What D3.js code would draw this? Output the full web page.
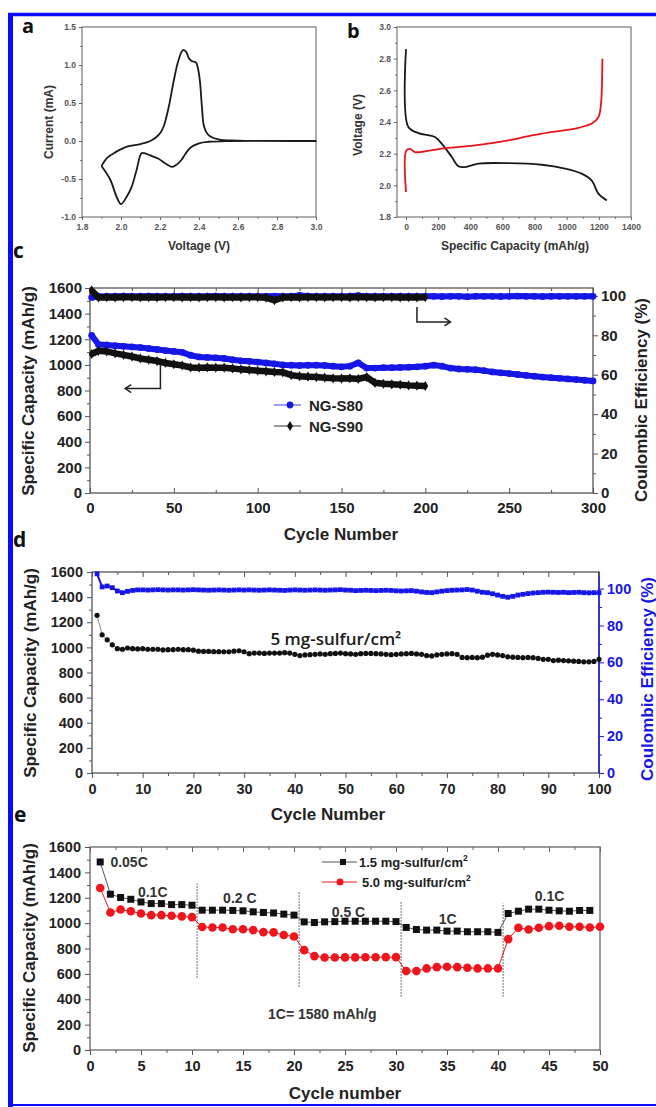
<!DOCTYPE html>
<html>
<head>
<meta charset="utf-8">
<script src="https://cdn.jsdelivr.net/npm/d3@7"></script>
<style>
body { margin: 0; background: #fff; }
svg { display: block; }
</style>
</head>
<body>
<svg id="fig"></svg>
<script>
// ---- data ----
// (a) cyclic voltammogram, one closed loop: anodic scan then cathodic scan
const cvVoltage = [1.90, 1.93, 1.97, 2.03, 2.10, 2.15, 2.18, 2.205, 2.22, 2.245, 2.268, 2.29, 2.31, 2.32, 2.335, 2.35, 2.365, 2.385, 2.395, 2.405, 2.415, 2.426, 2.448, 2.50, 2.60, 3.00,
                   2.55, 2.45, 2.40, 2.36, 2.33, 2.31, 2.28, 2.26, 2.23, 2.19, 2.15, 2.12, 2.105, 2.08, 2.055, 2.03, 2.00, 1.98, 1.945, 1.90];
const cvCurrent = [-0.33, -0.22, -0.15, -0.075, -0.04, 0.0, 0.05, 0.12, 0.20, 0.45, 0.76, 1.02, 1.17, 1.20, 1.17, 1.08, 1.05, 1.03, 0.95, 0.78, 0.45, 0.19, 0.08, 0.02, 0.005, 0.0,
                   0.0, -0.01, -0.03, -0.08, -0.17, -0.25, -0.32, -0.34, -0.30, -0.23, -0.19, -0.16, -0.16, -0.38, -0.60, -0.73, -0.83, -0.75, -0.51, -0.33];

// (b) discharge / charge profiles
const disCap  = [0, 14, 77, 180, 222, 284, 326, 367, 450, 637, 845, 990, 1093, 1156, 1197, 1249];
const disVolt = [2.86, 2.37, 2.33, 2.305, 2.263, 2.18, 2.12, 2.115, 2.137, 2.14, 2.13, 2.106, 2.074, 2.03, 1.948, 1.905];
const chgCap  = [0, 2, 25, 56, 222, 429, 637, 782, 907, 1052, 1156, 1197, 1213, 1222];
const chgVolt = [1.958, 2.22, 2.23, 2.21, 2.232, 2.253, 2.284, 2.316, 2.337, 2.358, 2.39, 2.43, 2.51, 2.80];

// (c) long cycling, sampled every 5 cycles
const cCycles80 = [1, 5, 10, 15, 20, 25, 30, 35, 40, 45, 50, 55, 60, 65, 70, 75, 80, 85, 90, 95, 100, 105, 110, 115, 120, 125, 130, 135, 140, 145,
                   150, 155, 160, 165, 170, 175, 180, 185, 190, 195, 200, 205, 210, 215, 220, 225, 230, 235, 240, 245, 250, 255, 260, 265, 270, 275, 280, 285, 290, 295, 300];
const cap80 = [1230, 1160, 1155, 1150, 1145, 1140, 1135, 1128, 1120, 1112, 1105, 1098, 1075, 1062, 1058, 1055, 1050, 1040, 1032, 1028,
               1022, 1015, 1008, 1000, 998, 995, 997, 998, 995, 990, 985, 990, 1015, 975, 975, 978, 978, 980, 982, 985,
               990, 998, 990, 975, 968, 965, 962, 955, 945, 938, 932, 925, 918, 912, 905, 900, 895, 890, 885, 880, 875];
const ce80 = [99.2, 99.7, 99.8, 99.8, 99.9, 99.8, 99.8, 99.9, 99.8, 99.8, 99.8, 99.9, 99.8, 99.8, 99.8, 99.9, 99.8, 99.8, 99.8, 99.8,
              99.8, 99.8, 99.9, 99.8, 99.8, 100.2, 99.9, 99.8, 99.8, 99.8, 99.8, 99.9, 100.1, 99.8, 99.8, 99.8, 99.8, 99.8, 99.8, 99.8,
              99.8, 99.8, 99.7, 99.8, 99.8, 99.6, 99.8, 99.8, 99.8, 99.7, 99.8, 99.9, 99.8, 99.8, 99.7, 99.8, 99.8, 99.8, 99.8, 99.8, 99.8];
const cCycles90 = [1, 5, 10, 15, 20, 25, 30, 35, 40, 45, 50, 55, 60, 65, 70, 75, 80, 85, 90, 95, 100, 105, 110, 115, 120, 125, 130, 135, 140, 145,
                   150, 155, 160, 165, 170, 175, 180, 185, 190, 195, 200];
const cap90 = [1085, 1110, 1105, 1090, 1078, 1065, 1050, 1040, 1030, 1015, 1005, 995, 980, 978, 980, 978, 978, 972, 965, 960,
               955, 950, 945, 942, 920, 912, 908, 905, 900, 895, 893, 895, 890, 905, 860, 852, 848, 845, 840, 838, 835];
const ce90 = [102.8, 99.2, 99.3, 99.2, 99.3, 99.3, 99.2, 99.3, 99.2, 99.3, 99.3, 99.2, 99.3, 99.2, 99.3, 99.3, 99.2, 99.3, 99.2, 99.3,
              99.3, 99.1, 97.8, 99.2, 99.3, 99.2, 99.3, 99.3, 99.2, 99.3, 99.3, 99.2, 99.4, 99.3, 99.2, 99.3, 99.3, 99.2, 99.3, 99.2, 99.3];

// (d) 5 mg-sulfur/cm2, cycles 1..100
const dCap = [1255, 1100, 1060, 1020, 990, 985, 995, 990, 988, 990,
              985, 985, 985, 980, 982, 982, 985, 982, 982, 978,
              970, 968, 968, 966, 966, 965, 965, 970, 973, 965,
              950, 955, 955, 952, 955, 955, 955, 958, 955, 945,
              935, 940, 942, 945, 948, 945, 950, 952, 955, 950,
              948, 945, 950, 952, 952, 950, 948, 945, 942, 945,
              948, 950, 952, 948, 945, 935, 932, 940, 945, 948,
              950, 945, 920, 918, 920, 918, 922, 938, 945, 940,
              935, 925, 922, 920, 918, 920, 918, 912, 905, 905,
              895, 898, 895, 893, 890, 888, 885, 885, 888, 905];
const dCE = [108, 100.9, 101.4, 100.5, 98.7, 97.8, 98.5, 99, 99.3, 99.3,
             99.2, 99.3, 99.4, 99.3, 99.2, 99.3, 99.3, 99.2, 99.3, 99.4,
             99.3, 99.2, 99.1, 99.2, 99.3, 99.2, 99.1, 99.2, 99.3, 99.2,
             99.3, 99.2, 99.1, 99.2, 99.3, 99.2, 99.1, 99.0, 99.2, 99.3,
             99.2, 99.1, 99.2, 99.3, 99.2, 99.1, 99.2, 99.3, 99.4, 99.2,
             99.1, 98.9, 99.0, 99.1, 99.0, 98.9, 99.0, 99.1, 99.0, 98.8,
             98.7, 98.8, 98.9, 98.6, 98.2, 97.9, 97.8, 98.2, 98.6, 98.9,
             99.1, 99.2, 99.3, 99.5, 99.2, 98.6, 98.0, 97.8, 97.2, 96.5,
             95.8, 95.3, 95.8, 96.5, 96.9, 97.3, 97.6, 97.8, 98.0, 98.1,
             98.0, 97.9, 98.0, 97.8, 97.9, 98.0, 97.8, 97.7, 97.8, 97.8];

// (e) rate capability
const eCap15 = [1482, 1228, 1202, 1188, 1167, 1154, 1154, 1146, 1146, 1141,
                1102, 1102, 1102, 1100, 1097, 1089, 1084, 1080, 1071, 1063,
                1010, 1005, 1010, 1012, 1015, 1015, 1015, 1015, 1015, 1012,
                966, 950, 945, 945, 937, 937, 932, 932, 932, 927,
                1076, 1094, 1110, 1110, 1102, 1097, 1094, 1100, 1100];
const eCap50 = [1277, 1084, 1107, 1094, 1076, 1063, 1063, 1058, 1053, 1047,
                970, 965, 965, 952, 952, 945, 929, 927, 906, 895,
                787, 740, 729, 729, 730, 730, 731, 731, 732, 732,
                622, 622, 643, 653, 656, 653, 648, 643, 643, 643,
                874, 963, 950, 963, 976, 979, 971, 971, 965, 971];
const eRates = ['0.05C', '0.1C', '0.2 C', '0.5 C', '1C', '0.1C'];
const eRateAt = [[2.0, 1443], [4.7, 1205], [13.05, 1157], [23.7, 1048], [34.2, 990], [43.6, 1172]];
const eSwitch = [10.5, 20.5, 30.5, 40.5];
const eSwitchSpan = [[569, 1312], [498, 1246], [420, 1167], [420, 1155]];

// tick labels
const aXTicks = [1.8, 2.0, 2.2, 2.4, 2.6, 2.8, 3.0];
const aYTicks = [-1.0, -0.5, 0.0, 0.5, 1.0, 1.5];
const bXTicks = [0, 200, 400, 600, 800, 1000, 1200, 1400];
const bYTicks = [1.8, 2.0, 2.2, 2.4, 2.6, 2.8, 3.0];
const capTicks = [0, 200, 400, 600, 800, 1000, 1200, 1400, 1600];
const ceTicks = [0, 20, 40, 60, 80, 100];
const cXTicks = [0, 50, 100, 150, 200, 250, 300];
const dXTicks = [0, 10, 20, 30, 40, 50, 60, 70, 80, 90, 100];
const eXTicks = [0, 5, 10, 15, 20, 25, 30, 35, 40, 45, 50];

// ---- drawing ----
const W = 656, H = 1107;
const ARIAL = '"Liberation Sans", Arial, sans-serif';
const CAL = '"Open Sans", "Noto Sans", sans-serif';
const BLUE = '#1616e6', RED = '#f0141c', INK = '#111';

const svg = d3.select('#fig').attr('width', W).attr('height', H);
svg.append('rect').attr('width', W).attr('height', H).attr('fill', '#fff');

// blue figure border
svg.append('line').attr('x1', 10.5).attr('x2', 10.5).attr('y1', 13).attr('y2', H).attr('stroke', '#0a0aff').attr('stroke-width', 5);
svg.append('line').attr('x1', 8).attr('x2', W).attr('y1', 14.5).attr('y2', 14.5).attr('stroke', '#0a0aff').attr('stroke-width', 3.5);
svg.append('line').attr('x1', 8).attr('x2', W).attr('y1', 1105).attr('y2', 1105).attr('stroke', '#0a0aff').attr('stroke-width', 2);

function drawAxis(g, orient, scale, major, o) {
	let make = {bottom: d3.axisBottom, top: d3.axisTop, left: d3.axisLeft, right: d3.axisRight}[orient];
	let horiz = orient == 'bottom' || orient == 'top';
	let tr = horiz ? `translate(0,${o.at})` : `translate(${o.at},0)`;
	let minor = major.slice(1).map((v, i) => (v + major[i]) / 2);
	let gm = g.append('g').attr('transform', tr).attr('color', o.color)
		.call(make(scale).tickValues(minor).tickSize(o.size * 0.6).tickFormat(''));
	gm.select('.domain').remove();
	let ga = g.append('g').attr('transform', tr).attr('color', o.color)
		.call(make(scale).tickValues(major).tickSize(o.size).tickPadding(o.pad || 3)
			.tickFormat(o.fmt ? o.fmt : ''));
	ga.select('.domain').remove();
	ga.attr('font-family', ARIAL).attr('font-size', o.font || 10).attr('font-weight', 'bold');
	ga.selectAll('text').attr('fill', o.text || o.color);
	return ga;
}

function frame(g, box, color, sw) {
	g.append('rect')
		.attr('x', box.l).attr('y', box.t)
		.attr('width', box.r - box.l).attr('height', box.b - box.t)
		.attr('fill', 'none').attr('stroke', color).attr('stroke-width', sw || 1);
}

function label(g, txt, x, y, o) {
	let t = g.append('text').attr('x', x).attr('y', y).text(txt)
		.attr('font-family', o.family || ARIAL)
		.attr('font-size', o.size)
		.attr('font-weight', o.weight || 'bold')
		.attr('fill', o.color || '#222')
		.attr('text-anchor', o.anchor || 'middle');
	if (o.rotate) t.attr('transform', `rotate(-90,${x},${y})`);
	return t;
}

const fmt1 = v => v.toFixed(1);
const fmt0 = v => String(v);

// ================= panel a =================
{
	let box = {l: 82, t: 27, r: 316, b: 217};
	let g = svg.append('g');
	let x = d3.scaleLinear().domain([1.8, 3.0]).range([box.l, box.r]);
	let y = d3.scaleLinear().domain([-1.0, 1.5]).range([box.b, box.t]);
	frame(g, box, '#777', 1.2);
	drawAxis(g, 'bottom', x, aXTicks, {at: box.b, size: 3, pad: 4, fmt: fmt1, font: 8.5, color: '#666', text: '#555'});
	drawAxis(g, 'left', y, aYTicks, {at: box.l, size: 3, pad: 3, fmt: fmt1, font: 8.5, color: '#666', text: '#555'});
	let cv = cvVoltage.map((v, i) => [v, cvCurrent[i]]);
	g.append('path')
		.attr('d', d3.line().x(d => x(d[0])).y(d => y(d[1])).curve(d3.curveCatmullRom)(cv))
		.attr('fill', 'none').attr('stroke', '#1a1a1a').attr('stroke-width', 1.8);
	label(g, 'Voltage (V)', 199, 250, {size: 12, color: '#333'});
	label(g, 'Current (mA)', 53, 122, {size: 12, color: '#333', rotate: true});
	label(g, 'a', 22, 33, {size: 20, family: CAL, anchor: 'start', color: '#111'});
}

// ================= panel b =================
{
	let box = {l: 397, t: 27, r: 631, b: 217};
	let g = svg.append('g');
	let x = d3.scaleLinear().domain([-56, 1400]).range([box.l, box.r]);
	let y = d3.scaleLinear().domain([1.8, 3.0]).range([box.b, box.t]);
	frame(g, box, '#777', 1.2);
	drawAxis(g, 'bottom', x, bXTicks, {at: box.b, size: 3, pad: 4, fmt: fmt0, font: 8.5, color: '#666', text: '#555'});
	drawAxis(g, 'left', y, bYTicks, {at: box.l, size: 3, pad: 3, fmt: fmt1, font: 8.5, color: '#666', text: '#555'});
	let line = d3.line().x(d => x(d[0])).y(d => y(d[1])).curve(d3.curveCatmullRom);
	g.append('path')
		.attr('d', line(disCap.map((c, i) => [c, disVolt[i]])))
		.attr('fill', 'none').attr('stroke', '#1a1a1a').attr('stroke-width', 1.8);
	g.append('path')
		.attr('d', line(chgCap.map((c, i) => [c, chgVolt[i]])))
		.attr('fill', 'none').attr('stroke', '#e8141c').attr('stroke-width', 1.8);
	label(g, 'Specific Capacity (mAh/g)', 515, 250, {size: 12, color: '#333'});
	label(g, 'Voltage (V)', 362, 125, {size: 12, color: '#333', rotate: true});
	label(g, 'b', 347, 38, {size: 20, family: CAL, anchor: 'start', color: '#111'});
}

// ================= panel c =================
{
	let box = {l: 90, t: 288, r: 593, b: 493};
	let g = svg.append('g');
	let x = d3.scaleLinear().domain([0, 300]).range([box.l, box.r]);
	let y = d3.scaleLinear().domain([0, 1600]).range([box.b, box.t]);
	let y2 = d3.scaleLinear().domain([0, 104]).range([box.b, box.t]);
	frame(g, box, '#555', 1.3);
	drawAxis(g, 'bottom', x, cXTicks, {at: box.b, size: -5, pad: 9, fmt: fmt0, font: 15, color: '#555', text: '#222'});
	drawAxis(g, 'top', x, cXTicks, {at: box.t, size: -5, color: '#555'});
	drawAxis(g, 'left', y, capTicks, {at: box.l, size: 5, pad: 3, fmt: fmt0, font: 15, color: '#555', text: '#222'});
	drawAxis(g, 'right', y2, ceTicks, {at: box.r, size: 5, pad: 3, fmt: fmt0, font: 15, color: '#555', text: '#222'});

	let lineL = d3.line().x(d => x(d[0])).y(d => y(d[1]));
	let lineR = d3.line().x(d => x(d[0])).y(d => y2(d[1]));
	let s80 = cCycles80.map((c, i) => [c, cap80[i]]);
	let s90 = cCycles90.map((c, i) => [c, cap90[i]]);
	let e80 = cCycles80.map((c, i) => [c, ce80[i]]);
	let e90 = cCycles90.map((c, i) => [c, ce90[i]]);
	let diamond = d3.symbol(d3.symbolDiamond, 30);

	// capacity bands
	g.append('path').attr('d', lineL(s80)).attr('fill', 'none').attr('stroke', BLUE).attr('stroke-width', 6);
	g.append('g').selectAll('circle').data(s80).enter().append('circle')
		.attr('cx', d => x(d[0])).attr('cy', d => y(d[1])).attr('r', 3.4).attr('fill', BLUE);
	g.append('path').attr('d', lineL(s90)).attr('fill', 'none').attr('stroke', INK).attr('stroke-width', 6.5);
	g.append('g').selectAll('path').data(s90).enter().append('path')
		.attr('d', diamond).attr('transform', d => `translate(${x(d[0])},${y(d[1])})`).attr('fill', INK);

	// coulombic efficiency bands
	g.append('path').attr('d', lineR(e80)).attr('fill', 'none').attr('stroke', BLUE).attr('stroke-width', 6);
	g.append('g').selectAll('circle').data(e80).enter().append('circle')
		.attr('cx', d => x(d[0])).attr('cy', d => y2(d[1])).attr('r', 3.4).attr('fill', BLUE);
	g.append('path').attr('d', lineR(e90)).attr('fill', 'none').attr('stroke', INK).attr('stroke-width', 6.5);
	g.append('g').selectAll('path').data(e90).enter().append('path')
		.attr('d', diamond).attr('transform', d => `translate(${x(d[0])},${y2(d[1])})`).attr('fill', INK);

	// arrows pointing to their axes
	let arrL = [[42, 1000], [42, 815], [21, 815]].map(d => [x(d[0]), y(d[1])]);
	g.append('path').attr('d', d3.line()(arrL)).attr('fill', 'none').attr('stroke', '#222').attr('stroke-width', 1.5);
	let tipL = arrL[2];
	g.append('path').attr('d', `M${tipL[0] + 6},${tipL[1] - 4}L${tipL[0]},${tipL[1]}L${tipL[0] + 6},${tipL[1] + 4}`)
		.attr('fill', 'none').attr('stroke', '#222').attr('stroke-width', 1.5);
	let arrR = [[195, 94.4], [195, 86.8], [215, 86.8]].map(d => [x(d[0]), y2(d[1])]);
	g.append('path').attr('d', d3.line()(arrR)).attr('fill', 'none').attr('stroke', '#222').attr('stroke-width', 1.5);
	let tipR = arrR[2];
	g.append('path').attr('d', `M${tipR[0] - 6},${tipR[1] - 4}L${tipR[0]},${tipR[1]}L${tipR[0] - 6},${tipR[1] + 4}`)
		.attr('fill', 'none').attr('stroke', '#222').attr('stroke-width', 1.5);

	// legend
	let lg = g.append('g');
	lg.append('line').attr('x1', 274).attr('x2', 301).attr('y1', 405).attr('y2', 405).attr('stroke', '#5a5ae8').attr('stroke-width', 1.2);
	lg.append('circle').attr('cx', 290).attr('cy', 405).attr('r', 3.4).attr('fill', BLUE);
	lg.append('line').attr('x1', 274).attr('x2', 301).attr('y1', 426).attr('y2', 426).attr('stroke', '#555').attr('stroke-width', 1.2);
	lg.append('path').attr('d', diamond).attr('transform', 'translate(290,426)').attr('fill', INK);
	label(lg, 'NG-S80', 309, 411, {size: 15, anchor: 'start'});
	label(lg, 'NG-S90', 309, 432, {size: 15, anchor: 'start'});

	label(g, 'Specific Capacity (mAh/g)', 34, 391, {size: 17, rotate: true});
	label(g, 'Coulombic Efficiency (%)', 647, 400, {size: 17, rotate: true});
	label(g, 'Cycle Number', 341, 540, {size: 17});
	label(g, 'c', 13, 258, {size: 21, family: CAL, anchor: 'start', color: '#111'});
}

// ================= panel d =================
{
	let box = {l: 92, t: 572, r: 599, b: 773};
	let g = svg.append('g');
	let x = d3.scaleLinear().domain([0, 100]).range([box.l, box.r]);
	let y = d3.scaleLinear().domain([0, 1600]).range([box.b, box.t]);
	let y2 = d3.scaleLinear().domain([0, 109]).range([box.b, box.t]);
	frame(g, box, '#555', 1.3);
	g.append('line').attr('x1', box.r).attr('x2', box.r).attr('y1', box.t).attr('y2', box.b).attr('stroke', BLUE).attr('stroke-width', 1.5);
	drawAxis(g, 'bottom', x, dXTicks, {at: box.b, size: 5, pad: 6, fmt: fmt0, font: 14.5, color: '#555', text: '#222'});
	drawAxis(g, 'top', x, dXTicks, {at: box.t, size: -5, color: '#555'});
	drawAxis(g, 'left', y, capTicks, {at: box.l, size: 5, pad: 4, fmt: fmt0, font: 14.5, color: '#555', text: '#222'});
	drawAxis(g, 'right', y2, ceTicks, {at: box.r, size: 5, pad: 3, fmt: fmt0, font: 14.5, color: BLUE});

	let cyc = dCap.map((c, i) => i + 1);
	let cap = cyc.map((c, i) => [c, dCap[i]]);
	let ce = cyc.map((c, i) => [c, dCE[i]]);
	g.append('path').attr('d', d3.line().x(d => x(d[0])).y(d => y(d[1]))(cap))
		.attr('fill', 'none').attr('stroke', '#888').attr('stroke-width', 1);
	g.append('g').selectAll('circle').data(cap).enter().append('circle')
		.attr('cx', d => x(d[0])).attr('cy', d => y(d[1])).attr('r', 2.6).attr('fill', INK);
	g.append('path').attr('d', d3.line().x(d => x(d[0])).y(d => y2(d[1]))(ce))
		.attr('fill', 'none').attr('stroke', BLUE).attr('stroke-width', 2);
	g.append('g').selectAll('rect').data(ce).enter().append('rect')
		.attr('x', d => x(d[0]) - 2.4).attr('y', d => y2(d[1]) - 2.4)
		.attr('width', 4.8).attr('height', 4.8).attr('fill', BLUE);

	label(g, '5 mg-sulfur/cm²', x(35.2), y(1021), {size: 17, family: CAL, weight: 600, anchor: 'start', color: '#1a1a1a'});
	label(g, 'Specific Capacity (mAh/g)', 36, 673, {size: 17, rotate: true});
	label(g, 'Coulombic Efficiency (%)', 653, 679, {size: 17, rotate: true, color: BLUE});
	label(g, 'Cycle Number', 328, 820, {size: 17});
	label(g, 'd', 13, 547, {size: 21, family: CAL, anchor: 'start', color: '#111'});
}

// ================= panel e =================
{
	let box = {l: 90, t: 847, r: 600, b: 1050};
	let g = svg.append('g');
	let x = d3.scaleLinear().domain([0, 50]).range([box.l, box.r]);
	let y = d3.scaleLinear().domain([0, 1600]).range([box.b, box.t]);
	frame(g, box, '#666', 1.3);
	drawAxis(g, 'bottom', x, eXTicks, {at: box.b, size: 5, pad: 6, fmt: fmt0, font: 14.5, color: '#555', text: '#222'});
	drawAxis(g, 'top', x, eXTicks, {at: box.t, size: -5, color: '#666'});
	drawAxis(g, 'left', y, capTicks, {at: box.l, size: 5, pad: 4, fmt: fmt0, font: 14.5, color: '#555', text: '#222'});

	// rate switch markers
	g.append('g').selectAll('line').data(eSwitch).enter().append('line')
		.attr('x1', d => x(d)).attr('x2', d => x(d))
		.attr('y1', (d, i) => y(eSwitchSpan[i][0])).attr('y2', (d, i) => y(eSwitchSpan[i][1]))
		.attr('stroke', '#444').attr('stroke-width', 1).attr('stroke-dasharray', '1.5,1.5');

	let s15 = eCap15.map((c, i) => [i + 1, c]);
	let s50 = eCap50.map((c, i) => [i + 1, c]);
	let line = d3.line().x(d => x(d[0])).y(d => y(d[1]));
	g.append('path').attr('d', line(s15)).attr('fill', 'none').attr('stroke', '#555').attr('stroke-width', 1);
	g.append('path').attr('d', line(s50)).attr('fill', 'none').attr('stroke', RED).attr('stroke-width', 1);
	g.append('g').selectAll('rect').data(s15).enter().append('rect')
		.attr('x', d => x(d[0]) - 3.5).attr('y', d => y(d[1]) - 3.5)
		.attr('width', 7).attr('height', 7).attr('fill', INK);
	g.append('g').selectAll('circle').data(s50).enter().append('circle')
		.attr('cx', d => x(d[0])).attr('cy', d => y(d[1])).attr('r', 4.3).attr('fill', RED);

	g.append('g').selectAll('text').data(eRates).enter().append('text')
		.attr('x', (d, i) => x(eRateAt[i][0])).attr('y', (d, i) => y(eRateAt[i][1]))
		.text(d => d)
		.attr('font-family', ARIAL).attr('font-size', 14).attr('font-weight', 'bold').attr('fill', '#333');
	label(g, '1C= 1580 mAh/g', x(17.45), y(243), {size: 14, anchor: 'start', color: '#333'});

	// legend
	let lg = g.append('g');
	lg.append('line').attr('x1', 322).attr('x2', 357).attr('y1', 862).attr('y2', 862).attr('stroke', '#555').attr('stroke-width', 1);
	lg.append('rect').attr('x', 343 - 3).attr('y', 862 - 3).attr('width', 6).attr('height', 6).attr('fill', INK);
	lg.append('line').attr('x1', 322).attr('x2', 357).attr('y1', 882).attr('y2', 882).attr('stroke', RED).attr('stroke-width', 1);
	lg.append('circle').attr('cx', 340).attr('cy', 882).attr('r', 3.5).attr('fill', RED);
	let t1 = label(lg, '1.5 mg-sulfur/cm', 359, 867, {size: 13, anchor: 'start', color: '#222'});
	t1.append('tspan').attr('dy', -6).attr('font-size', 8.5).text('2');
	let t2 = label(lg, '5.0 mg-sulfur/cm', 362, 887, {size: 13, anchor: 'start', color: '#222'});
	t2.append('tspan').attr('dy', -6).attr('font-size', 8.5).text('2');

	label(g, 'Specific Capacity (mAh/g)', 35, 948, {size: 17, rotate: true});
	label(g, 'Cycle number', 345, 1099, {size: 17});
	label(g, 'e', 14, 822, {size: 21, family: CAL, anchor: 'start', color: '#111'});
}
</script>
</body>
</html>
